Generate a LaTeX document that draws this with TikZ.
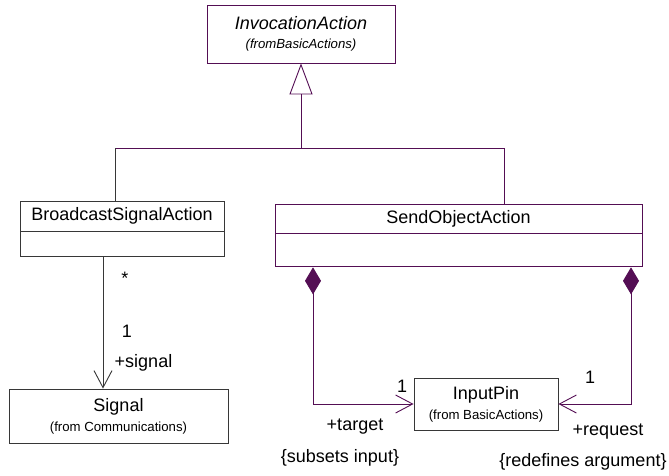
\documentclass[tikz,border=0pt]{standalone}
\usepackage{fontspec}
\setmainfont{Liberation Sans}
\usetikzlibrary{positioning,arrows.meta}

\definecolor{umlpurple}{RGB}{84,14,84}
\definecolor{umlgray}{RGB}{55,55,55}

\tikzset{
	classbox/.style = {draw, line width=0.9pt, inner sep=0pt, font=\fontsize{18}{20}\selectfont},
	lbl/.style = {inner sep=0pt, font=\fontsize{18}{20}\selectfont},
	purpleline/.style = {draw=umlpurple, line width=0.9pt},
	grayline/.style = {draw=umlgray, line width=0.9pt},
	openhead/.tip = {Straight Barb[length=17pt, width=18pt, line width=0.9pt]},
	comphead/.tip = {Diamond[length=27pt, width=16pt, fill=umlpurple]}
}
\newcommand{\fromtxt}{\fontsize{13.2}{15}\selectfont}

\begin{document}
\begin{tikzpicture}[x=1pt, y=-1pt]
	\useasboundingbox (0,0) rectangle (669,475);

	% classes
	\node[classbox, umlpurple, minimum width=188pt, minimum height=58pt, align=center, text=black] (inv) at (301,34)
		{\itshape InvocationAction\\[-1pt]{\fromtxt\itshape (fromBasicActions)}};

	\node[classbox, umlgray, text=black, minimum width=204pt, minimum height=30pt] (bsa) at (122,216) {BroadcastSignalAction};
	\node[classbox, umlgray, minimum width=204pt, minimum height=25pt, below=0pt of bsa] (bsaops) {};

	\node[classbox, umlpurple, text=black, minimum width=367pt, minimum height=29pt] (soa) at (458.5,218.5) {SendObjectAction};
	\node[classbox, umlpurple, minimum width=367pt, minimum height=33pt, below=0pt of soa] (soaops) {};

	\node[classbox, umlgray, text=black, minimum width=219pt, minimum height=54pt, align=center] (sig) at (118.5,416)
		{Signal\\[0pt]{\fromtxt (from Communications)}};
	\node[classbox, umlgray, text=black, minimum width=144pt, minimum height=52pt, align=center] (pin) at (486,404)
		{InputPin\\[0pt]{\fromtxt (from BasicActions)}};

	% generalization
	\coordinate (gen) at (301,148);
	\coordinate (gl) at (115,148);
	\coordinate (gr) at (504,148);
	\draw[purpleline, -{Triangle[open, length=31pt, width=23pt, line width=0.9pt]}] (gen) -- (inv.south);
	\draw[purpleline] (gl) -- (gr);
	\draw[grayline] (gl) -- (gl |- bsa.north);
	\draw[purpleline] (gr) -- (gr |- soa.north);

	% association to Signal
	\coordinate (sigin) at (103,0);
	\draw[grayline, -openhead] (sigin |- bsaops.south) -- (sigin |- sig.north);
	\node[lbl] (mstar) at (125,278) {*};
	\node[lbl] (mone) at (127,331) {1};
	\node[lbl] (rsig) at (143.5,363) {+signal};

	% compositions to InputPin
	\coordinate (cl) at (313,0);
	\coordinate (cr) at (631,0);
	\draw[purpleline, openhead-comphead] (pin.west) -| (cl |- soaops.south);
	\draw[purpleline, openhead-comphead] (pin.east) -| (cr |- soaops.south);
	\node[lbl] (tone) at (402,386) {1};
	\node[lbl] (rtarget) at (355,427) {+target};
	\node[lbl] (ctarget) at (340,458) {\{subsets input\}};
	\node[lbl] (qone) at (590,377) {1};
	\node[lbl] (rreq) at (608,432) {+request};
	\node[lbl] (creq) at (583,462) {\{redefines argument\}};
\end{tikzpicture}
\end{document}
